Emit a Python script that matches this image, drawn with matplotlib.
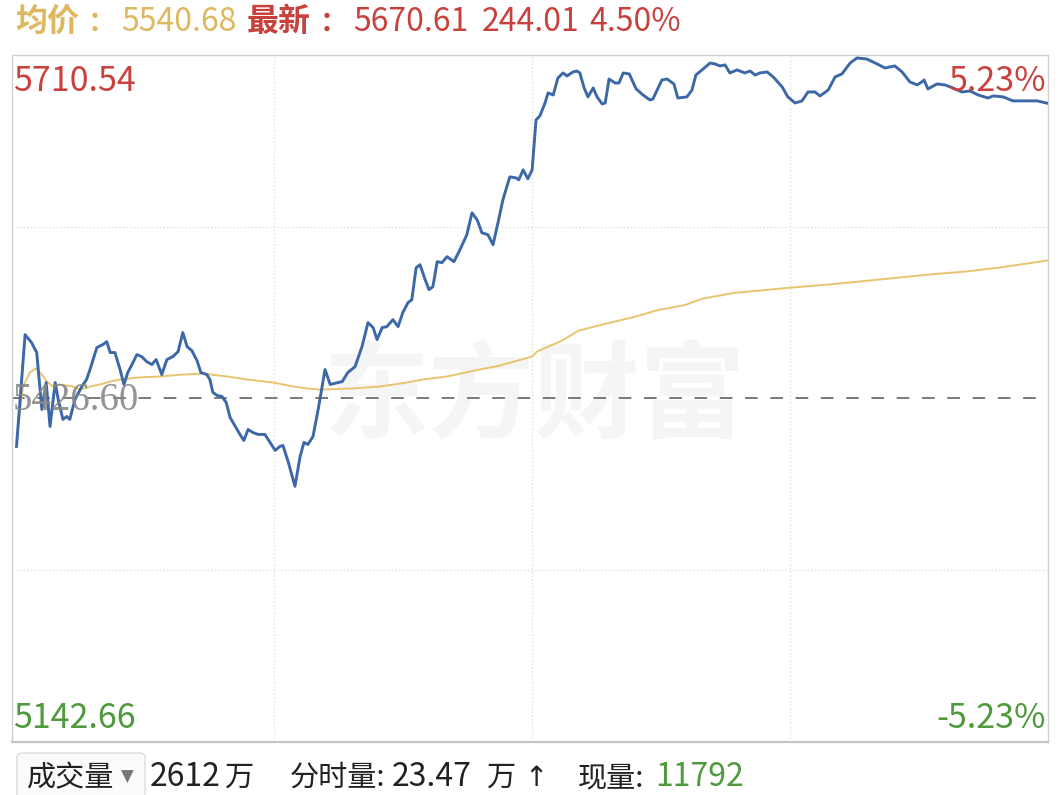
import matplotlib
matplotlib.use('Agg')
import matplotlib.pyplot as plt
from matplotlib.patches import FancyBboxPatch

plt.rcParams['font.family'] = ['Noto Sans CJK SC', 'DejaVu Sans']

# ---- data ----
pre_close = 5426.60
price_hi = 5710.54
price_lo = 5142.66
range_pct = '5.23%'

avg_price = '5540.68'
last_price = '5670.61'
last_change = '244.01'
last_pct = '4.50%'

total_vol = '2612'
minute_vol = '23.47'
cur_vol = '11792'

# minutes since open, price
price_t = [0, 2, 3.5, 4.7, 5.0, 5.9, 6.9, 7.8, 9.0, 9.7, 10.8, 11.7, 12.4, 13.6, 15.2,
           16.3, 17.1, 18.7, 20.1, 21.0, 21.8, 22.9, 24.1, 25.0, 25.9, 27.1, 28.0, 29.1,
           30.3, 31.5, 32.5, 33.8, 35.0, 36.4, 37.6, 38.7, 39.7, 40.8, 42.0, 42.9, 44.3,
           45.0, 45.7, 46.7, 47.8, 48.8, 49.7, 50.9, 52.0, 52.9, 53.9, 55.0, 56.2, 57.8,
           59.0, 60.2, 61.3, 62.0, 63.2, 64.8, 66.0, 66.9, 67.8, 69.0, 70.2, 71.8, 73.0,
           75.8, 77.1, 78.8, 80.4, 81.8, 83.0, 83.9, 85.1, 86.2, 87.6, 88.8, 89.9, 91.1,
           92.0, 93.0, 93.9, 95.1, 96.0, 96.9, 97.9, 99.0, 100.2, 101.8, 103.2, 104.8,
           106.0, 107.2, 108.3, 109.7, 110.9, 112.1, 113.2, 114.8, 116.2, 116.9, 117.9,
           119.0, 120.0, 120.9, 121.8, 123.0, 123.7, 124.9, 126.0, 127.2, 128.1, 129.5,
           130.4, 131.1, 132.1, 133.0, 134.2, 135.1, 136.3, 137.0, 137.9, 139.3, 140.2,
           141.2, 142.6, 144.2, 145.8, 147.4, 148.1, 150.2, 151.4, 153.0, 153.9, 156.0,
           157.2, 158.1, 159.8, 161.4, 162.6, 163.7, 164.9, 166.0, 167.7, 169.5, 170.7,
           171.9, 173.0, 174.7, 176.1, 178.2, 179.5, 181.2, 182.8, 184.2, 185.8, 187.0,
           188.9, 190.5, 192.1, 194.0, 195.6, 197.9, 200.3, 202.1, 204.4, 206.1, 207.9,
           209.6, 210.7, 211.2, 212.1, 214.2, 216.1, 217.9, 220.0, 221.9, 223.8, 226.1,
           227.3, 229.6, 231.9, 237.5, 240]
price_v = [5387.0, 5479.4, 5472.8, 5464.6, 5453.0, 5417.5, 5439.8, 5403.5, 5439.8, 5425.8,
           5409.3, 5411.7, 5409.3, 5425.8, 5436.5, 5442.3, 5450.5, 5468.7, 5471.2, 5473.6,
           5464.6, 5464.6, 5450.5, 5438.2, 5448.1, 5456.3, 5462.9, 5461.3, 5457.1, 5454.7,
           5458.8, 5446.4, 5458.8, 5461.3, 5465.4, 5481.1, 5469.5, 5466.2, 5458.0, 5448.1,
           5446.4, 5442.3, 5431.6, 5429.1, 5428.3, 5423.3, 5410.9, 5403.5, 5396.9, 5391.9,
           5401.0, 5398.5, 5396.9, 5396.9, 5390.3, 5383.7, 5387.0, 5387.8, 5374.6, 5354.0,
           5378.7, 5390.3, 5388.6, 5395.2, 5417.5, 5450.5, 5438.2, 5440.6, 5448.1, 5453.0,
           5469.5, 5489.3, 5485.2, 5475.3, 5485.2, 5486.0, 5491.8, 5486.0, 5497.6, 5505.8,
           5508.3, 5534.7, 5537.2, 5524.8, 5516.6, 5519.0, 5539.7, 5538.9, 5543.8, 5539.7,
           5549.6, 5562.0, 5580.1, 5574.3, 5563.6, 5562.0, 5553.7, 5572.7, 5590.9, 5609.8,
           5609.0, 5607.4, 5615.6, 5608.2, 5615.6, 5656.9, 5660.2, 5670.9, 5679.2, 5677.5,
           5691.6, 5695.7, 5693.2, 5696.5, 5697.3, 5695.7, 5683.3, 5675.9, 5683.3, 5675.9,
           5670.1, 5670.9, 5690.7, 5687.4, 5687.4, 5695.7, 5694.9, 5682.5, 5677.5, 5673.4,
           5674.2, 5689.9, 5690.7, 5686.6, 5675.0, 5675.9, 5681.6, 5694.0, 5699.0, 5703.9,
           5703.1, 5701.5, 5702.3, 5695.7, 5698.2, 5695.7, 5697.3, 5694.0, 5695.7, 5696.5,
           5692.4, 5684.1, 5675.9, 5670.9, 5672.6, 5680.0, 5680.0, 5676.7, 5681.6, 5692.4,
           5694.9, 5703.9, 5708.1, 5707.2, 5703.1, 5699.8, 5701.5, 5696.5, 5688.3, 5685.8,
           5688.3, 5689.9, 5682.5, 5686.6, 5685.8, 5683.3, 5680.0, 5680.8, 5677.5, 5675.0,
           5676.7, 5675.9, 5672.6, 5672.6, 5670.6]

# minutes since open, average price
avg_t = [0, 1.5, 3.1, 4.5, 5.9, 7.1, 8.5, 10.1, 13.1, 14.8, 17.1, 19.4, 21.8, 24.1, 28.0,
         33.4, 38.7, 43.4, 49.0, 53.6, 59.7, 64.4, 67.6, 70.6, 78.3, 84.6, 90.9, 94.6,
         100.2, 105.5, 112.5, 120.0, 121.1, 126.7, 130.8, 137.2, 143.6, 149.2, 155.6,
         159.6, 166.9, 179.7, 189.3, 197.3, 213.3, 221.4, 229.3, 235.8, 240]
avg_v = [5392.0, 5436.5, 5448.1, 5451.4, 5446.4, 5440.6, 5436.5, 5438.2, 5436.5, 5434.0,
         5436.5, 5438.2, 5440.6, 5442.3, 5443.9, 5444.8, 5446.4, 5447.2, 5444.8, 5442.3,
         5439.8, 5436.5, 5434.9, 5434.0, 5434.9, 5436.5, 5439.8, 5442.3, 5444.8, 5448.9,
         5453.8, 5461.3, 5465.4, 5474.0, 5482.7, 5488.5, 5493.9, 5499.6, 5503.9, 5509.1,
         5513.8, 5518.1, 5520.9, 5523.7, 5529.4, 5531.7, 5535.1, 5538.5, 5540.7]

RED = '#c8413d'
GREEN = '#4f9a3c'
YEL = '#dfb75e'
INK = '#222222'
W, H = 1060, 795


def fx(px):
    return px / W


def fy(py):
    return (H - py) / H


fig = plt.figure(figsize=(10.6, 7.95), dpi=100)
ax = fig.add_axes([fx(12), fy(742), 1036 / W, 687 / H])

# watermark
ax.text(0.505, 0.5, '东方财富', transform=ax.transAxes, fontsize=76, fontweight='bold',
        color='#f5f5f5', ha='center', va='center', zorder=0)

# grid
for t in [60, 120, 180]:
    ax.axvline(t, color='#dedede', lw=1, ls=':', zorder=1)
q = (price_hi - pre_close) / 2
for p in [pre_close + q, pre_close - q]:
    ax.axhline(p, color='#dedede', lw=1, ls=':', zorder=1)
ax.axhline(pre_close, color='#707070', lw=1.3, dashes=(7, 7), zorder=2)

ax.plot(avg_t, avg_v, color='#e9c46e', lw=1.4, zorder=3)
ax.plot(price_t, price_v, color='#3d68a8', lw=2.1, zorder=4)

ax.set_xlim(-1.05, 240.05)
ax.set_ylim(price_lo, price_hi)
ax.set_xticks([])
ax.set_yticks([])
for s in ax.spines.values():
    s.set_color('#d0d0d0')
    s.set_linewidth(1)
ax.spines['bottom'].set_color('#c4c4c4')
ax.spines['bottom'].set_linewidth(1.6)

# axis labels inside the plot
lab = dict(transform=ax.transAxes, fontsize=24.5, va='baseline', zorder=5)
ax.text(0.001, 0.9476, '%.2f' % price_hi, color=RED, ha='left', **lab)
ax.text(0.998, 0.9476, range_pct, color=RED, ha='right', **lab)
ax.text(0.001, 0.0204, '%.2f' % price_lo, color=GREEN, ha='left', **lab)
ax.text(0.998, 0.0204, '-' + range_pct, color=GREEN, ha='right', **lab)
ax.text(0.001, 0.483, '%.2f' % pre_close, transform=ax.transAxes, color='#888888',
        fontsize=28, family=['Liberation Serif'], va='baseline', ha='left', alpha=0.9, zorder=5)

# header line
hy = fy(31)
fig.text(fx(15), hy, '均价', color=YEL, fontsize=23, fontweight='bold')
fig.text(fx(88), hy, '：', color=YEL, fontsize=20, fontweight='bold')
fig.text(fx(121), hy, avg_price, color=YEL, fontsize=23)
fig.text(fx(247), hy, '最新', color=RED, fontsize=23, fontweight='bold')
fig.text(fx(320), hy, '：', color=RED, fontsize=20, fontweight='bold')
fig.text(fx(353), hy, last_price, color=RED, fontsize=23)
fig.text(fx(482), hy, last_change, color=RED, fontsize=23)
fig.text(fx(589), hy, last_pct, color=RED, fontsize=23)

# volume line at the bottom
box = FancyBboxPatch((fx(17), fy(800)), fx(128), (800 - 753) / H,
                     boxstyle='round,pad=0,rounding_size=0.006', transform=fig.transFigure,
                     facecolor='#fbfbfb', edgecolor='#dcdcdc', lw=1)
fig.patches.append(box)
by = fy(786)
fig.text(fx(27), by, '成交量', color=INK, fontsize=21)
fig.text(fx(121), fy(782), '▼', color='#777777', fontsize=12, family=['DejaVu Sans'])
fig.text(fx(150), by, total_vol, color=INK, fontsize=23)
fig.text(fx(224), by, '万', color=INK, fontsize=21)
fig.text(fx(290), by, '分时量:', color=INK, fontsize=21)
fig.text(fx(392), by, minute_vol, color=INK, fontsize=23)
fig.text(fx(486), by, '万', color=INK, fontsize=21)
fig.text(fx(524), by, '↑', color=INK, fontsize=20, family=['DejaVu Sans'])
fig.text(fx(578), by, '现量:', color=INK, fontsize=21)
fig.text(fx(655), by, cur_vol, color=GREEN, fontsize=23)

plt.savefig('out.png', dpi=100)
